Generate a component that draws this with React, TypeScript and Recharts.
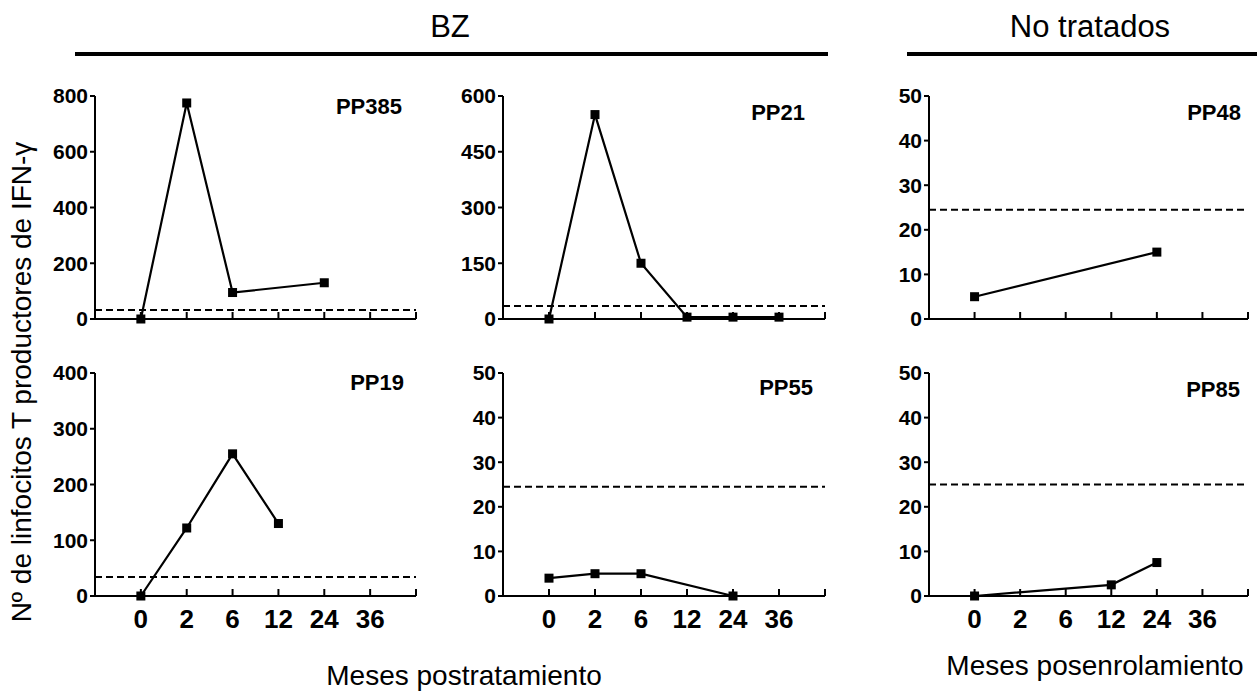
import { LineChart, Line, XAxis, YAxis, ReferenceLine } from 'recharts'

// months on the x axis (index positions, 36 followed by an unlabeled end tick)
const months = ['0', '2', '6', '12', '24', '36', '']

// values per patient, null = no sample at that month
const pp385 = [0, 775, 95, null, 130, null]
const pp21 = [0, 550, 150, 5, 5, 5]
const pp48 = [5, null, null, null, 15, null]
const pp19 = [0, 122, 255, 130, null, null]
const pp55 = [4, 5, 5, null, 0, null]
const pp85 = [0, null, null, 2.5, 7.5, null]

// cut-off (dashed line) per patient
const cutoffs = { PP385: 32, PP21: 35, PP48: 24.5, PP19: 34, PP55: 24.5, PP85: 25 }

const ticks385 = [0, 200, 400, 600, 800]
const ticks21 = [0, 150, 300, 450, 600]
const ticks50 = [0, 10, 20, 30, 40, 50]
const ticks19 = [0, 100, 200, 300, 400]

const FONT = '"Liberation Sans", Arial, sans-serif'
const PLOT_H = 223

const panels = [
  { name: 'PP385', values: pp385, ticks: ticks385, left: 95, top: 96, width: 321, labelRight: 402, labelY: 107, bottom: false },
  { name: 'PP21', values: pp21, ticks: ticks21, left: 503, top: 96, width: 322, labelRight: 805, labelY: 113, bottom: false },
  { name: 'PP48', values: pp48, ticks: ticks50, left: 929, top: 96, width: 319, labelRight: 1241, labelY: 113, bottom: false },
  { name: 'PP19', values: pp19, ticks: ticks19, left: 95, top: 373, width: 321, labelRight: 404, labelY: 383, bottom: true },
  { name: 'PP55', values: pp55, ticks: ticks50, left: 503, top: 373, width: 322, labelRight: 813, labelY: 388, bottom: true },
  { name: 'PP85', values: pp85, ticks: ticks50, left: 929, top: 373, width: 319, labelRight: 1240, labelY: 390, bottom: true },
]

const SquareDot = (props: any) => {
  const { cx, cy, value } = props
  if (cx == null || cy == null || value == null) return <g key={props.key} />
  return <rect key={props.key} x={cx - 4.5} y={cy - 4.5} width={9} height={9} fill="#000" />
}

const makeXTick = (showLabel: boolean) => (props: any) => {
  const { x, y, payload } = props
  const label = months[payload.value]
  return (
    <g>
      <line x1={x} x2={x} y1={y} y2={y - 7} stroke="#000" strokeWidth={2} />
      {showLabel && label ? (
        <text x={x} y={y + 32} textAnchor="middle" fontFamily={FONT} fontWeight="bold" fontSize={26} fill="#000">
          {label}
        </text>
      ) : null}
    </g>
  )
}

function Panel({ p }: { p: (typeof panels)[number] }) {
  const data = p.values.map((v, i) => ({ i, v }))
  const yMax = p.ticks[p.ticks.length - 1]
  return (
    <div style={{ position: 'absolute', left: p.left - 70, top: p.top - 15 }}>
      <LineChart width={70 + p.width + 10} height={15 + PLOT_H + 40} data={data} margin={{ top: 15, right: 10, left: 0, bottom: 0 }}>
        <XAxis
          dataKey="i"
          type="number"
          domain={[-1, 6]}
          ticks={[0, 1, 2, 3, 4, 5, 6]}
          height={40}
          tickSize={0}
          tickMargin={0}
          tickLine={false}
          axisLine={{ stroke: '#000', strokeWidth: 2 }}
          tick={makeXTick(p.bottom)}
          interval={0}
        />
        <YAxis
          width={70}
          domain={[0, yMax]}
          ticks={p.ticks}
          interval={0}
          tickSize={5}
          tickMargin={2}
          tickLine={{ stroke: '#000', strokeWidth: 2 }}
          axisLine={{ stroke: '#000', strokeWidth: 2 }}
          tick={{ fill: '#000', fontSize: 21, fontWeight: 'bold', fontFamily: FONT }}
        />
        <ReferenceLine y={cutoffs[p.name as keyof typeof cutoffs]} stroke="#000" strokeWidth={2} strokeDasharray="7 4" />
        <Line
          dataKey="v"
          stroke="#000"
          strokeWidth={2.2}
          connectNulls
          dot={SquareDot}
          activeDot={false}
          isAnimationActive={false}
        />
      </LineChart>
      <div
        style={{
          position: 'absolute',
          right: 70 + p.width + 10 - (p.labelRight - p.left + 70),
          top: p.labelY - p.top + 15 - 13,
          fontFamily: FONT,
          fontWeight: 'bold',
          fontSize: 22,
          lineHeight: '26px',
          color: '#000',
        }}
      >
        {p.name}
      </div>
    </div>
  )
}

export default function App() {
  const text = { position: 'absolute' as const, fontFamily: FONT, color: '#000', whiteSpace: 'nowrap' as const }
  return (
    <div style={{ position: 'relative', width: 1257, height: 698, background: '#fff', overflow: 'hidden' }}>
      <style>{'body{margin:0}'}</style>
      <div style={{ ...text, left: 450, top: 27, fontSize: 31, transform: 'translate(-50%, -50%)' }}>BZ</div>
      <div style={{ position: 'absolute', left: 75, top: 52, width: 753, height: 4, background: '#000' }} />
      <div style={{ ...text, left: 1090, top: 27, fontSize: 31, transform: 'translate(-50%, -50%)' }}>No tratados</div>
      <div style={{ position: 'absolute', left: 907, top: 52, width: 350, height: 4, background: '#000' }} />
      <div style={{ ...text, left: 22, top: 382, fontSize: 28, transform: 'translate(-50%, -50%) rotate(-90deg)' }}>
        Nº de linfocitos T productores de IFN-γ
      </div>
      {panels.map((p) => (
        <Panel key={p.name} p={p} />
      ))}
      <div style={{ ...text, left: 464, top: 676, fontSize: 28, transform: 'translate(-50%, -50%)' }}>Meses postratamiento</div>
      <div style={{ ...text, left: 1095, top: 666, fontSize: 28, transform: 'translate(-50%, -50%)' }}>Meses posenrolamiento</div>
    </div>
  )
}
